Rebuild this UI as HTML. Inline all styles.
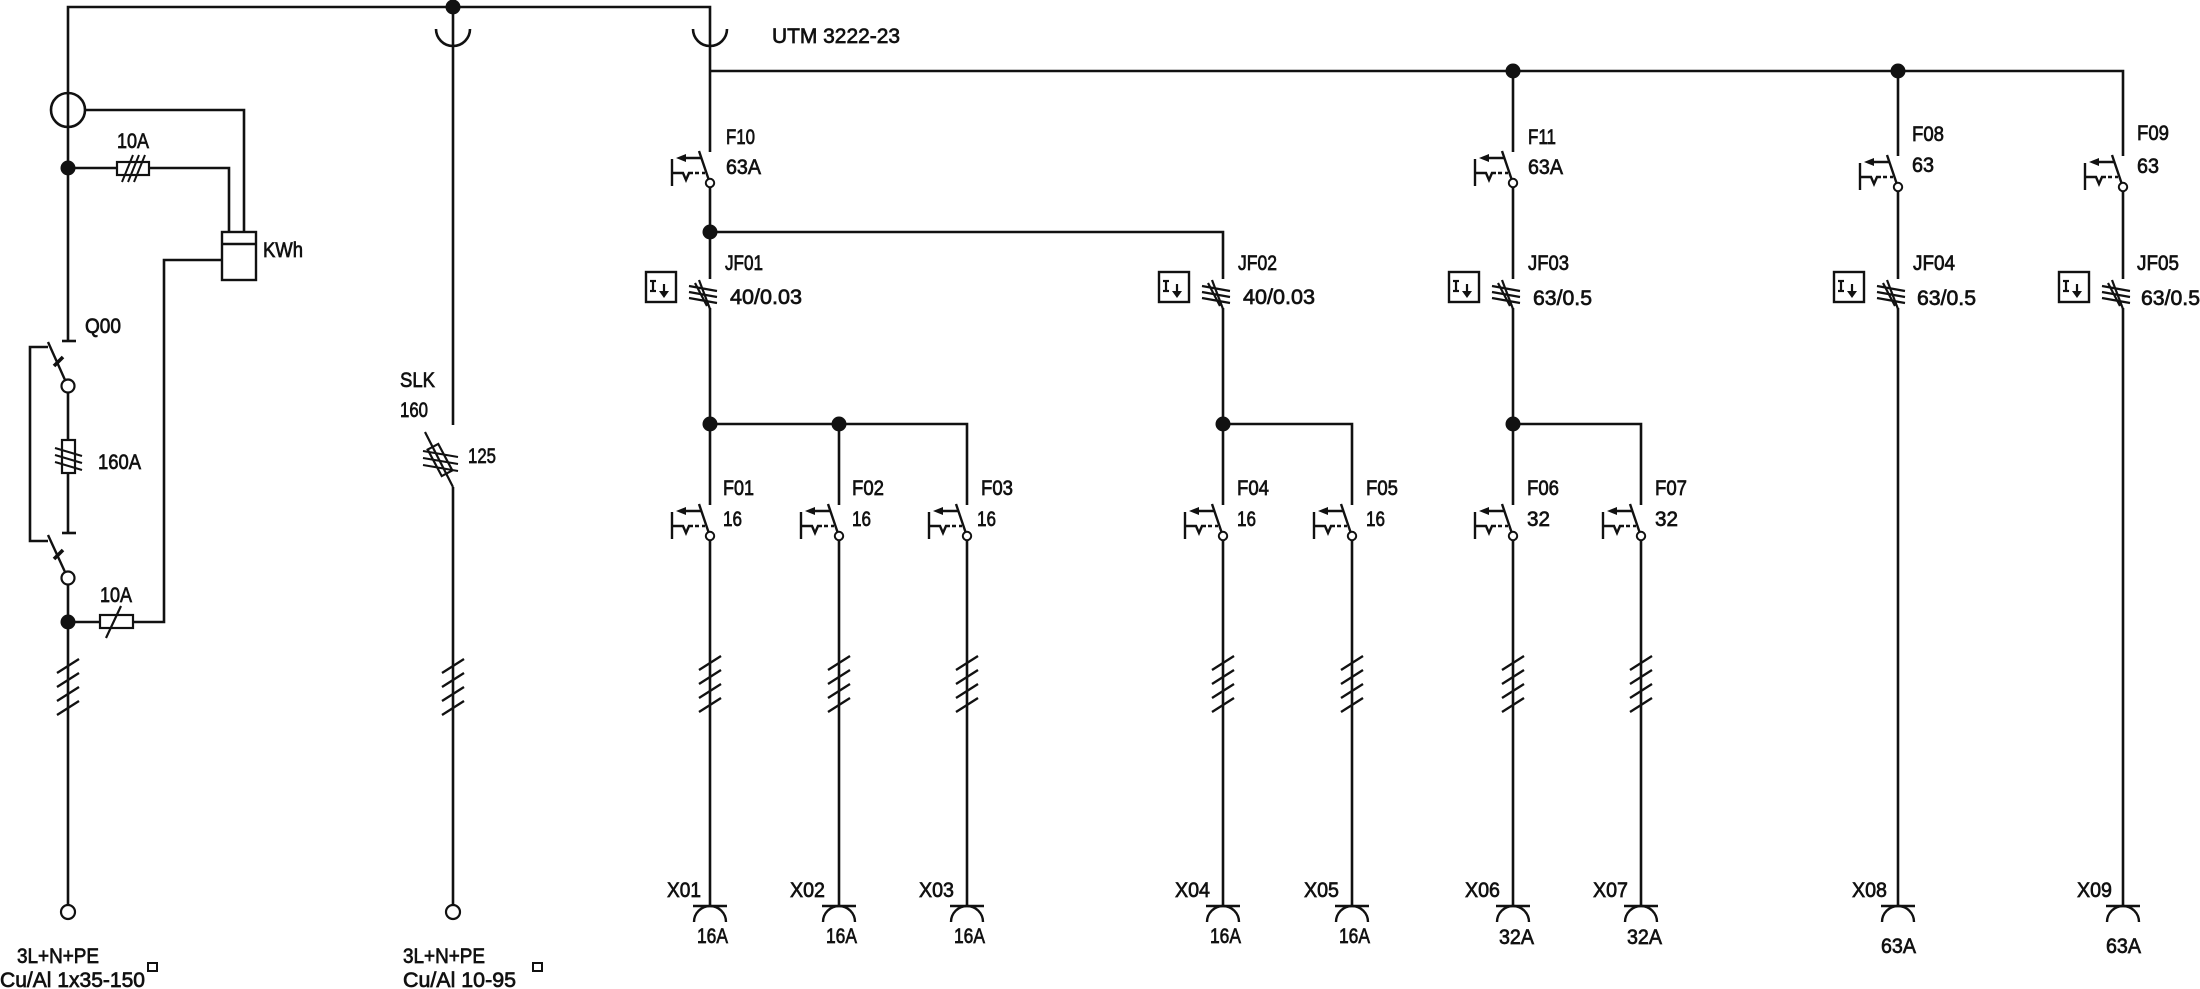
<!DOCTYPE html>
<html>
<head>
<meta charset="utf-8">
<style>
  html,body{margin:0;padding:0;background:#fff;}
  svg{display:block;}
  text{font-family:"Liberation Sans",sans-serif;font-size:21px;fill:#111;stroke:#111;stroke-width:0.7px;}
</style>
</head>
<body>
<svg width="2200" height="989" viewBox="0 0 2200 989" xmlns="http://www.w3.org/2000/svg">
<defs>
  <g id="brk" stroke="#111" stroke-width="2.4" fill="none" stroke-linecap="butt">
    <line x1="-11" y1="-1" x2="-1.5" y2="27"/>
    <circle cx="0" cy="31" r="4.2" fill="#fff" stroke-width="2"/>
    <line x1="-25" y1="6" x2="-8" y2="6"/>
    <polygon points="-34,6 -24,2 -24,10" fill="#111" stroke="none"/>
    <line x1="-38" y1="7" x2="-38" y2="34"/>
    <polyline points="-38,21 -27,21 -24,28 -21,21 -17,21"/>
    <line x1="-15" y1="21" x2="-5" y2="21" stroke-dasharray="4 3"/>
  </g>
  <g id="rcd" stroke="#111" stroke-width="2.2" fill="none">
    <line x1="-11" y1="1" x2="0" y2="30"/>
    <line x1="-21" y1="7" x2="7" y2="12"/>
    <line x1="-21" y1="13" x2="7" y2="18"/>
    <line x1="-21" y1="19" x2="7" y2="24"/>
    <line x1="-15" y1="4" x2="-3" y2="27"/>
    <rect x="-64" y="-7" width="30" height="30" stroke-width="2.4"/>
    <line x1="-57" y1="2" x2="-57" y2="12"/>
    <line x1="-60" y1="2" x2="-54" y2="2"/>
    <line x1="-60" y1="12" x2="-54" y2="12"/>
    <line x1="-46" y1="5" x2="-46" y2="13"/>
    <polygon points="-51,12 -41,12 -46,19" fill="#111" stroke="none"/>
  </g>
  <g id="hatchL" stroke="#111" stroke-width="2.3">
    <line x1="-11" y1="-20" x2="11" y2="-34"/>
    <line x1="-11" y1="-6" x2="11" y2="-20"/>
    <line x1="-11" y1="8" x2="11" y2="-6"/>
    <line x1="-11" y1="22" x2="11" y2="8"/>
  </g>
  <g id="sock" stroke="#111" stroke-width="2.4" fill="none">
    <line x1="-17" y1="0" x2="17" y2="0"/>
    <path d="M-16,16 A16,16 0 0 1 16,16"/>
  </g>
</defs>

<g stroke="#111" stroke-width="2.6" fill="none">
  <polyline points="68,341 68,7 710,7 710,152"/>
  <line x1="62" y1="341" x2="76" y2="341"/>
  <circle cx="68" cy="110" r="17"/>
  <polyline points="85,110 244,110 244,232"/>
  <line x1="68" y1="168" x2="117" y2="168"/>
  <rect x="117" y="162" width="32" height="13" stroke-width="2.2"/>
  <polyline points="149,168 229,168 229,232"/>
  <line x1="122" y1="182" x2="133" y2="155" stroke-width="2"/>
  <line x1="128" y1="182" x2="139" y2="155" stroke-width="2"/>
  <line x1="134" y1="182" x2="145" y2="155" stroke-width="2"/>
  <rect x="222" y="232" width="34" height="48" stroke-width="2.4"/>
  <line x1="222" y1="244" x2="256" y2="244" stroke-width="2.4"/>
  <polyline points="222,260 164,260 164,622 133,622"/>
  <rect x="100" y="615" width="33" height="13" stroke-width="2.2"/>
  <line x1="68" y1="622" x2="100" y2="622"/>
  <line x1="106" y1="638" x2="121" y2="606" stroke-width="2.2"/>
  <polyline points="48,347 30,347 30,541 48,541"/>
  <line x1="48" y1="342" x2="65" y2="380" stroke-width="2.4"/>
  <line x1="54" y1="366" x2="63" y2="357" stroke-width="3.6"/>
  <circle cx="68" cy="386" r="6.5" stroke-width="2.2"/>
  <line x1="68" y1="392.5" x2="68" y2="440"/>
  <rect x="62" y="440" width="13" height="33" stroke-width="2.2"/>
  <line x1="55" y1="448" x2="82" y2="456" stroke-width="2"/>
  <line x1="55" y1="455" x2="82" y2="463" stroke-width="2"/>
  <line x1="55" y1="462" x2="82" y2="470" stroke-width="2"/>
  <line x1="68" y1="473" x2="68" y2="533"/>
  <line x1="62" y1="533" x2="76" y2="533"/>
  <line x1="48" y1="535" x2="65" y2="572" stroke-width="2.4"/>
  <line x1="54" y1="559" x2="63" y2="550" stroke-width="3.6"/>
  <circle cx="68" cy="578" r="6.5" stroke-width="2.2"/>
  <line x1="68" y1="584.5" x2="68" y2="905"/>
  <circle cx="68" cy="912" r="7" stroke-width="2.2"/>

  <path d="M436,29 A17,17 0 0 0 470,29"/>
  <line x1="453" y1="7" x2="453" y2="425"/>
  <line x1="425" y1="432" x2="453" y2="487" stroke-width="2.2"/>
  <rect x="-6" y="-15" width="12" height="30" transform="translate(440,460) rotate(-28)" stroke-width="2.2"/>
  <line x1="423" y1="451" x2="458" y2="457" stroke-width="2"/>
  <line x1="423" y1="458" x2="458" y2="464" stroke-width="2"/>
  <line x1="423" y1="465" x2="458" y2="471" stroke-width="2"/>
  <line x1="453" y1="487" x2="453" y2="905"/>
  <circle cx="453" cy="912" r="7" stroke-width="2.2"/>

  <path d="M693,29 A17,17 0 0 0 727,29"/>
  <polyline points="710,71 2123,71 2123,156"/>
  <line x1="710" y1="187" x2="710" y2="279"/>
  <polyline points="710,232 1223,232 1223,279"/>
  <line x1="710" y1="308" x2="710" y2="505"/>
  <polyline points="710,424 967,424 967,505"/>
  <line x1="839" y1="424" x2="839" y2="505"/>
  <line x1="1223" y1="308" x2="1223" y2="505"/>
  <polyline points="1223,424 1352,424 1352,505"/>
  <line x1="1513" y1="71" x2="1513" y2="152"/>
  <line x1="1513" y1="187" x2="1513" y2="279"/>
  <line x1="1513" y1="308" x2="1513" y2="505"/>
  <polyline points="1513,424 1641,424 1641,505"/>
  <line x1="1898" y1="71" x2="1898" y2="156"/>
  <line x1="1898" y1="191" x2="1898" y2="279"/>
  <line x1="1898" y1="308" x2="1898" y2="906"/>
  <line x1="2123" y1="191" x2="2123" y2="279"/>
  <line x1="2123" y1="308" x2="2123" y2="906"/>
  <line x1="710" y1="540" x2="710" y2="906"/>
  <line x1="839" y1="540" x2="839" y2="906"/>
  <line x1="967" y1="540" x2="967" y2="906"/>
  <line x1="1223" y1="540" x2="1223" y2="906"/>
  <line x1="1352" y1="540" x2="1352" y2="906"/>
  <line x1="1513" y1="540" x2="1513" y2="906"/>
  <line x1="1641" y1="540" x2="1641" y2="906"/>
</g>

<g fill="#111">
  <circle cx="453" cy="7" r="7.5"/>
  <circle cx="68" cy="168" r="7.5"/>
  <circle cx="68" cy="622" r="7.5"/>
  <circle cx="710" cy="232" r="7.5"/>
  <circle cx="710" cy="424" r="7.5"/>
  <circle cx="839" cy="424" r="7.5"/>
  <circle cx="1223" cy="424" r="7.5"/>
  <circle cx="1513" cy="424" r="7.5"/>
  <circle cx="1513" cy="71" r="7.5"/>
  <circle cx="1898" cy="71" r="7.5"/>
</g>

<use href="#brk" x="710" y="152"/>
<use href="#brk" x="1513" y="152"/>
<use href="#brk" x="1898" y="156"/>
<use href="#brk" x="2123" y="156"/>
<use href="#brk" x="710" y="505"/>
<use href="#brk" x="839" y="505"/>
<use href="#brk" x="967" y="505"/>
<use href="#brk" x="1223" y="505"/>
<use href="#brk" x="1352" y="505"/>
<use href="#brk" x="1513" y="505"/>
<use href="#brk" x="1641" y="505"/>

<use href="#rcd" x="710" y="279"/>
<use href="#rcd" x="1223" y="279"/>
<use href="#rcd" x="1513" y="279"/>
<use href="#rcd" x="1898" y="279"/>
<use href="#rcd" x="2123" y="279"/>

<use href="#hatchL" x="68" y="693"/>
<use href="#hatchL" x="453" y="693"/>
<use href="#hatchL" x="710" y="690"/>
<use href="#hatchL" x="839" y="690"/>
<use href="#hatchL" x="967" y="690"/>
<use href="#hatchL" x="1223" y="690"/>
<use href="#hatchL" x="1352" y="690"/>
<use href="#hatchL" x="1513" y="690"/>
<use href="#hatchL" x="1641" y="690"/>

<use href="#sock" x="710" y="906"/>
<use href="#sock" x="839" y="906"/>
<use href="#sock" x="967" y="906"/>
<use href="#sock" x="1223" y="906"/>
<use href="#sock" x="1352" y="906"/>
<use href="#sock" x="1513" y="906"/>
<use href="#sock" x="1641" y="906"/>
<use href="#sock" x="1898" y="906"/>
<use href="#sock" x="2123" y="906"/>

<rect x="148" y="963" width="9" height="8" fill="none" stroke="#111" stroke-width="2"/>
<rect x="533" y="963" width="9" height="8" fill="none" stroke="#111" stroke-width="2"/>

<text x="772" y="43" textLength="128" lengthAdjust="spacingAndGlyphs">UTM 3222-23</text>
<text x="117" y="148" textLength="32" lengthAdjust="spacingAndGlyphs">10A</text>
<text x="263" y="257" textLength="40" lengthAdjust="spacingAndGlyphs">KWh</text>
<text x="85" y="333" textLength="36" lengthAdjust="spacingAndGlyphs">Q00</text>
<text x="98" y="469" textLength="43" lengthAdjust="spacingAndGlyphs">160A</text>
<text x="100" y="602" textLength="32" lengthAdjust="spacingAndGlyphs">10A</text>
<text x="17" y="963" textLength="82" lengthAdjust="spacingAndGlyphs">3L+N+PE</text>
<text x="0" y="987" textLength="145" lengthAdjust="spacingAndGlyphs">Cu/Al 1x35-150</text>
<text x="400" y="387" textLength="35" lengthAdjust="spacingAndGlyphs">SLK</text>
<text x="400" y="417" textLength="28" lengthAdjust="spacingAndGlyphs">160</text>
<text x="468" y="463" textLength="28" lengthAdjust="spacingAndGlyphs">125</text>
<text x="403" y="963" textLength="82" lengthAdjust="spacingAndGlyphs">3L+N+PE</text>
<text x="403" y="987" textLength="113" lengthAdjust="spacingAndGlyphs">Cu/Al 10-95</text>

<text x="726" y="144" textLength="29" lengthAdjust="spacingAndGlyphs">F10</text>
<text x="726" y="174" textLength="35" lengthAdjust="spacingAndGlyphs">63A</text>
<text x="725" y="270" textLength="38" lengthAdjust="spacingAndGlyphs">JF01</text>
<text x="730" y="304" textLength="72" lengthAdjust="spacingAndGlyphs">40/0.03</text>
<text x="1238" y="270" textLength="39" lengthAdjust="spacingAndGlyphs">JF02</text>
<text x="1243" y="304" textLength="72" lengthAdjust="spacingAndGlyphs">40/0.03</text>
<text x="1528" y="144" textLength="28" lengthAdjust="spacingAndGlyphs">F11</text>
<text x="1528" y="174" textLength="35" lengthAdjust="spacingAndGlyphs">63A</text>
<text x="1528" y="270" textLength="41" lengthAdjust="spacingAndGlyphs">JF03</text>
<text x="1533" y="305" textLength="59" lengthAdjust="spacingAndGlyphs">63/0.5</text>
<text x="1912" y="141" textLength="32" lengthAdjust="spacingAndGlyphs">F08</text>
<text x="1912" y="172" textLength="22" lengthAdjust="spacingAndGlyphs">63</text>
<text x="1913" y="270" textLength="42" lengthAdjust="spacingAndGlyphs">JF04</text>
<text x="1917" y="305" textLength="59" lengthAdjust="spacingAndGlyphs">63/0.5</text>
<text x="2137" y="140" textLength="32" lengthAdjust="spacingAndGlyphs">F09</text>
<text x="2137" y="173" textLength="22" lengthAdjust="spacingAndGlyphs">63</text>
<text x="2137" y="270" textLength="42" lengthAdjust="spacingAndGlyphs">JF05</text>
<text x="2141" y="305" textLength="59" lengthAdjust="spacingAndGlyphs">63/0.5</text>

<text x="723" y="495" textLength="31" lengthAdjust="spacingAndGlyphs">F01</text>
<text x="723" y="526" textLength="19" lengthAdjust="spacingAndGlyphs">16</text>
<text x="852" y="495" textLength="32" lengthAdjust="spacingAndGlyphs">F02</text>
<text x="852" y="526" textLength="19" lengthAdjust="spacingAndGlyphs">16</text>
<text x="981" y="495" textLength="32" lengthAdjust="spacingAndGlyphs">F03</text>
<text x="977" y="526" textLength="19" lengthAdjust="spacingAndGlyphs">16</text>
<text x="1237" y="495" textLength="32" lengthAdjust="spacingAndGlyphs">F04</text>
<text x="1237" y="526" textLength="19" lengthAdjust="spacingAndGlyphs">16</text>
<text x="1366" y="495" textLength="32" lengthAdjust="spacingAndGlyphs">F05</text>
<text x="1366" y="526" textLength="19" lengthAdjust="spacingAndGlyphs">16</text>
<text x="1527" y="495" textLength="32" lengthAdjust="spacingAndGlyphs">F06</text>
<text x="1527" y="526" textLength="23" lengthAdjust="spacingAndGlyphs">32</text>
<text x="1655" y="495" textLength="32" lengthAdjust="spacingAndGlyphs">F07</text>
<text x="1655" y="526" textLength="23" lengthAdjust="spacingAndGlyphs">32</text>

<text x="667" y="897" textLength="34" lengthAdjust="spacingAndGlyphs">X01</text>
<text x="790" y="897" textLength="35" lengthAdjust="spacingAndGlyphs">X02</text>
<text x="919" y="897" textLength="35" lengthAdjust="spacingAndGlyphs">X03</text>
<text x="1175" y="897" textLength="35" lengthAdjust="spacingAndGlyphs">X04</text>
<text x="1304" y="897" textLength="35" lengthAdjust="spacingAndGlyphs">X05</text>
<text x="1465" y="897" textLength="35" lengthAdjust="spacingAndGlyphs">X06</text>
<text x="1593" y="897" textLength="35" lengthAdjust="spacingAndGlyphs">X07</text>
<text x="1852" y="897" textLength="35" lengthAdjust="spacingAndGlyphs">X08</text>
<text x="2077" y="897" textLength="35" lengthAdjust="spacingAndGlyphs">X09</text>

<text x="697" y="943" textLength="31" lengthAdjust="spacingAndGlyphs">16A</text>
<text x="826" y="943" textLength="31" lengthAdjust="spacingAndGlyphs">16A</text>
<text x="954" y="943" textLength="31" lengthAdjust="spacingAndGlyphs">16A</text>
<text x="1210" y="943" textLength="31" lengthAdjust="spacingAndGlyphs">16A</text>
<text x="1339" y="943" textLength="31" lengthAdjust="spacingAndGlyphs">16A</text>
<text x="1499" y="944" textLength="35" lengthAdjust="spacingAndGlyphs">32A</text>
<text x="1627" y="944" textLength="35" lengthAdjust="spacingAndGlyphs">32A</text>
<text x="1881" y="953" textLength="35" lengthAdjust="spacingAndGlyphs">63A</text>
<text x="2106" y="953" textLength="35" lengthAdjust="spacingAndGlyphs">63A</text>
</svg>
</body>
</html>
